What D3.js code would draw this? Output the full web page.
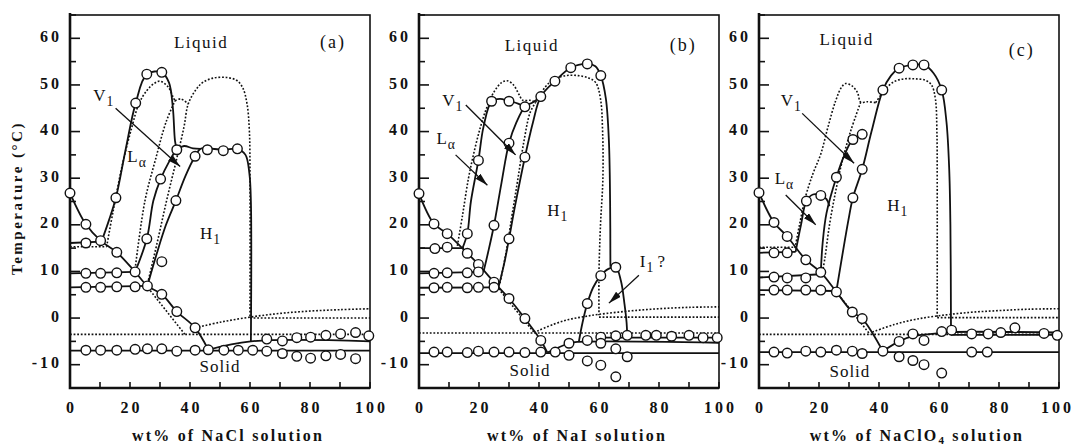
<!DOCTYPE html>
<html lang="en">
<head>
<meta charset="UTF-8">
<title>Phase diagrams</title>
<script src="https://cdn.jsdelivr.net/npm/d3@7/dist/d3.min.js"></script>
<style>
  body { margin: 0; background: #fff; }
  svg text { font-family: "Liberation Serif", "Times New Roman", serif; fill: #111; }
</style>
</head>
<body>
<div id="chart"></div>
<script>
// axis ticks
var xTicks = [0, 20, 40, 60, 80, 100];
var yTicks = [-10, 0, 10, 20, 30, 40, 50, 60];
var yMinor = [-15, -5, 5, 15, 25, 35, 45, 55, 65];
var panelTags = ['(a)', '(b)', '(c)'];
var saltNames = ['NaCl', 'NaI', 'NaClO'];

// ---- (a) NaCl ----
var naclPoints = [
  [0,26.8],[5.3,20.1],[10.2,16.6],[15.6,14.1],[21.7,9.9],[25.8,6.9],[30.6,5.1],[35.6,1.4],[41.7,-2.1],[46.1,-6.8],
  [5.3,16.1],
  [5.3,9.6],[10.2,9.6],[15.6,9.7],
  [5.3,6.6],[10.2,6.6],[15.6,6.7],[21.7,6.7],
  [15.3,25.8],[21.9,46.1],[25.6,52.3],[30.6,52.7],[35.6,36.1],[41.7,34.7],[45.8,36.1],[51.1,35.9],[55.8,36.3],
  [30.2,29.8],[35.3,25.2],[25.6,17.0],[30.6,12.1],
  [5.3,-6.9],[10.2,-6.9],[15.6,-6.9],[21.7,-6.7],[25.8,-6.6],[30.6,-6.6],[35.6,-7.1],[41.7,-6.9],[51.3,-6.9],
  [56.1,-6.9],[60.9,-6.9],[65.6,-7.1],[70.8,-7.6],[75.6,-8.2],[80.2,-8.6],[85.3,-8.1],[90.2,-7.8],[95.2,-8.7],
  [65.6,-4.5],[70.8,-4.9],[75.6,-4.2],[80.2,-4.1],[85.3,-3.7],[90.2,-3.4],[95.2,-3.1],[99.6,-3.8]
];
var naclSolid = [
  [[0,26.8],[5.3,20.1],[10.2,16.6],[15.6,14.1],[21.7,9.9],[25.8,6.9],[30.6,5.1],[35.6,1.4],[41.7,-2.1],[46.1,-6.8]],
  [[0,16.1],[10.5,16.4]],
  [[0,9.6],[21.7,9.9]],
  [[0,6.6],[25.8,6.9]],
  [[0,-7],[100,-7]],
  [[46.1,-6.8],[60.3,-5],[100,-5]],
  [[10.5,16.4],[13,21],[15.3,25.8],[18.5,36],[21.9,46.1],[25.6,52.3],[30.6,52.7],[33,50.5],[34.3,45],[35,38],[35.6,36.1]],
  [[21.7,9.9],[25.6,17.0],[27.8,25.2],[30.2,29.8],[33,33.5],[35.6,36.1],[38,36.9],[41,36.4],[43.5,36.3]],
  [[25.8,6.9],[29,14],[32,20],[35.3,25.2],[38.5,30.5],[41.7,34.7],[43.5,36.3],[45.8,36.4],[51.1,36.1],[55.8,36.3],
   [58.5,35],[59.8,31],[60.3,25],[60.3,-5]]
];
var naclDotted = [
  [[0,15.3],[12.2,15.3]],
  [[12.2,15.3],[14.4,23],[17.5,33],[20.6,40.9],[23,46],[25.6,48.8],[28,50.3],[30,50.8],[32.8,49.5],[34.4,47.3],[35,46.6]],
  [[21.7,10.5],[25,25.2],[28.5,34],[32,42],[35,46.6]],
  [[35,46.6],[37,47],[39.4,45.9]],
  [[25.6,6.7],[29,16],[32.2,25.2],[35.5,34],[38,41],[39.4,45.9],[42,49],[44.4,50.6],[48,51.5],[52.2,51.6],
   [55.5,51],[57.5,49.5],[59,46],[59.8,40],[60,30],[60,0.2]],
  [[0,-3.5],[100,-3.5]],
  [[60,0],[100,0]],
  [[26,6.5],[38.3,-3.5]],
  [[41.7,-2.1],[50,-0.9],[60,0.2],[70,1],[80,1.5],[90,1.8],[100,2]]
];
var naclArrows = [[[15.2,45],[36.7,32.5]]];

// ---- (b) NaI ----
var naiPoints = [
  [0,26.7],[5,20.2],[9.4,18.1],[16.1,13.9],[19.8,11.5],[25,7.7],[30,4.2],[35.3,-0.1],[40.6,-4.8],
  [5.3,14.9],[9.4,15.2],
  [5,9.6],[9.4,9.7],[16.1,9.7],[19.8,9.9],
  [5,6.5],[9.4,6.6],[16.1,6.5],[19.8,6.6],[25,6.6],
  [24.2,46.5],[30,46.5],[35.3,45.3],[40.6,47.5],[45.3,50.8],[50.6,53.7],[56.1,54.5],[60.6,52],
  [30,37.5],[35.3,34.5],[19.8,33.8],[16.1,18.1],[25,19.9],[30,17],
  [5,-7.3],[9.4,-7.3],[16.1,-7.4],[19.8,-7.1],[25,-7.3],[30,-7.3],[35.3,-7.4],[40.6,-7.3],[45.4,-7.3],
  [50,-5.4],[50,-8],[56.1,3.1],[56.1,-4.8],[56.1,-9.2],[60.6,9.1],[60.6,-4.1],[60.6,-5.4],[60.6,-10.1],
  [65.6,10.9],[65.6,-3.8],[65.6,-6.6],[65.6,-12.6],[69.4,-3.7],[69.4,-8.3],
  [75.6,-3.7],[79.1,-3.7],[84.2,-3.9],[90,-3.7],[94.7,-4.2],[99.4,-4.2]
];
var naiSolid = [
  [[0,26.7],[5,20.2],[9.4,18.1],[16.1,13.9],[19.8,11.5],[25,7.7],[30,4.2],[35.3,-0.1],[40.6,-4.8],[42.8,-7.4]],
  [[0,15],[15,15]],
  [[0,9.6],[21,9.9]],
  [[0,6.5],[26,6.6]],
  [[0,-7.5],[100,-7.5]],
  [[42.8,-7.4],[50,-5.4],[53,-5.1],[100,-5.3]],
  [[60,-4.2],[100,-4.2]],
  [[14.5,15],[16.1,18.1],[17.3,25],[19.8,33.8],[21.5,41],[24.2,46.5],[27,47],[30,46.5],[33,46],[35.3,45.3]],
  [[21.5,9.9],[23,14],[25,19.9],[27.5,29],[30,37.5],[32.5,42],[35.3,45.3],[38,46.3],[40.6,47.5]],
  [[26.5,6.6],[28.5,12],[30,17],[32,24],[35.3,34.5],[38,42],[40.6,47.5],[45.3,50.8],[50.6,53.7],[56.1,54.5],
   [58.8,54],[60.6,52],[62.3,47],[63.3,38],[63.7,25],[63.8,11]],
  [[53.3,-5],[54.5,-1],[56.1,3.1],[58,6.5],[60.6,9.1],[63,10.5],[65.6,10.9],[67.3,8],[68.5,3],[69.2,-1],[69.4,-3.7]]
];
var naiDotted = [
  [[12.8,15.5],[14.5,22],[16.5,30],[18.5,36],[20.5,41],[22.5,45],[25,48.5],[27.5,50.5],[29.4,50.9],[31.5,50],
   [33.3,48],[34.6,46.7],[37,46.7],[38.9,46.3]],
  [[27,7.5],[29,14],[31,22],[33,30],[35,38],[37,44],[38.9,46.3]],
  [[38.9,46.3],[42,49.5],[45,51.2],[49,52],[53,52],[56.5,51.5],[58.9,50.5],[60.5,47],[61.2,40],[61.3,30],
   [60.5,20],[60,10],[60,0.6]],
  [[60,0.2],[100,0.2]],
  [[0,-3.2],[100,-3.2]],
  [[39.4,-2.8],[45,-1.3],[50,-0.3],[55,0.3],[60,0.8],[70,1.5],[80,2],[90,2.3],[100,2.4]],
  [[25,7.5],[38.5,-3.2]]
];
var naiArrows = [[[15.6,45.7],[32.2,35]], [[12.2,35],[22.8,28.5]], [[73.3,9.2],[63.3,3.2]]];

// ---- (c) NaClO4 ----
var perPoints = [
  [0,26.9],[5,20.5],[9.4,17.5],[15.6,12.5],[20.6,9.8],[25.8,5.6],[31.1,1.3],[34.4,-0.1],[41.3,-7.1],
  [5,14],[9.4,14],
  [5,8.8],[9.4,8.6],[15.6,8.6],
  [5,6],[9.4,6],[15.6,6],[20.6,6],
  [46.7,53.6],[51.3,54.3],[55,54.3],[60.9,48.9],[41.3,48.9],[31.3,38.3],[34.4,39.4],[34.4,31.9],
  [25.8,30.2],[31.3,25.8],[15.8,25.1],[20.6,26.3],
  [5,-7.3],[9.4,-7.5],[15.6,-7.1],[20.6,-7.3],[25.8,-6.9],[31.1,-7.1],[34.4,-7.6],[70.9,-7.3],[76.1,-7.3],
  [46.7,-5],[51.3,-3.4],[55,-4.8],[60.9,-2.9],[64.2,-2.6],[70.9,-3.4],[76.4,-3.4],[80.6,-3.1],[85.3,-2.1],
  [95,-3.3],[99.4,-3.7],
  [46.7,-8.3],[51.3,-9.1],[55,-10],[60.9,-11.8]
];
var perSolid = [
  [[0,26.9],[5,20.5],[9.4,17.5],[15.6,12.5],[20.6,9.8],[25.8,5.6],[31.1,1.3],[34.4,-0.1],[41.3,-7.1]],
  [[0,14],[12.2,14.2]],
  [[0,8.7],[20.6,9.4]],
  [[0,6],[25.8,5.8]],
  [[0,-7.3],[100,-7.3]],
  [[41.3,-7.1],[46.7,-5],[51.3,-3.9],[60.9,-3.2],[64,-3],[100,-3.1]],
  [[64,-3.6],[100,-3.6]],
  [[12.2,14.2],[14,20],[15.8,25.1],[18,26.5],[20.6,26.3],[22.5,25.5],[23.5,24]],
  [[20.6,9.8],[21.2,16],[22.5,22.5],[25.8,30.2],[28.5,35],[31.3,38.3],[34.4,39.4]],
  [[25.8,5.8],[29.8,21],[31.3,25.8],[34.4,31.9],[37.5,40],[41.3,48.9],[44,52],[46.7,53.6],[51.3,54.3],
   [55,54.3],[58.2,52.5],[60.9,48.9],[62.5,42],[63.4,32],[63.8,20],[64,-2.8]]
];
var perDotted = [
  [[0,15.2],[12,15.2]],
  [[12,15],[13.5,20],[15.5,26],[18,31],[20.6,35.2],[23,41],[25.5,46.5],[27.5,49.5],[28.9,50.3],[31,49.8],
   [32.8,48.4],[33.9,46.3],[36,46.4],[38.9,46.2]],
  [[33.9,46.3],[30.5,40],[27.5,33],[25.5,27],[23.5,20],[22,13],[21.2,10]],
  [[38.9,46.2],[42,49],[45,50.7],[48.5,51.3],[52.2,51.3],[55.5,51],[57.5,50],[58.8,47],[59.3,40],[59.4,30],[59.4,0.3]],
  [[59.4,0.1],[100,0.1]],
  [[0,-3.5],[100,-3.5]],
  [[37.8,-3],[45,-1.4],[52,-0.3],[60,0.5],[70,1.2],[80,1.6],[90,1.9],[100,2]],
  [[25.8,5.6],[37,-3.5]]
];
var perArrows = [[[14.4,43.9],[31.7,33.2]], [[8.9,26.4],[18.9,20]]];

// labels: [x, T]
var liquidPos = [[43.7,58.8],[37.6,58.2],[29.2,59.3]];
var tagPos = [[87.7,58.8],[88.1,58.2],[87.6,57.1]];
var solidPos = [[50,-10.7],[37,-11.5],[30.3,-11.7]];
var v1Pos = [[11.1,47.5],[11.1,46.4],[10.6,46.4]];
var laPos = [[22.2,34.3],[8.9,38.2],[8.3,29.6]];
var h1Pos = [[46.7,17.8],[46.1,22.8],[46.1,23.9]];
var i1Pos = [77.8,11.8];

var panels = [
  {pts: naclPoints, solid: naclSolid, dotted: naclDotted, arrows: naclArrows, left: 70},
  {pts: naiPoints, solid: naiSolid, dotted: naiDotted, arrows: naiArrows, left: 419},
  {pts: perPoints, solid: perSolid, dotted: perDotted, arrows: perArrows, left: 759}
];

var svg = d3.select('#chart').append('svg')
    .attr('width', 1075)
    .attr('height', 446);

svg.append('defs').append('marker')
    .attr('id', 'head')
    .attr('viewBox', '0 0 13 7')
    .attr('refX', 13).attr('refY', 3.5)
    .attr('markerWidth', 13).attr('markerHeight', 7)
    .attr('markerUnits', 'userSpaceOnUse')
    .attr('orient', 'auto')
  .append('path')
    .attr('d', 'M0,0 L13,3.5 L0,7 Z')
    .attr('fill', '#111');

var y = d3.scaleLinear().domain([-15, 65]).range([388, 15]);

// text with a subscript
function subLabel(g, px, py, main, sub, size, tail) {
  var t = g.append('text')
      .attr('x', px).attr('y', py)
      .attr('text-anchor', 'middle')
      .attr('dominant-baseline', 'middle')
      .style('font-size', size + 'px');
  t.append('tspan').text(main);
  t.append('tspan').attr('dx', 1).attr('dy', 6).style('font-size', (size * 0.8) + 'px').text(sub);
  if (tail) t.append('tspan').attr('dy', -6).text(' ?');
  return t;
}

panels.forEach(function(p, i) {
  var x = d3.scaleLinear().domain([0, 100]).range([p.left, p.left + 300]);
  var g = svg.append('g');
  var line = d3.line().x(function(d){ return x(d[0]); }).y(function(d){ return y(d[1]); })
      .curve(d3.curveCatmullRom.alpha(0.5));

  // frame
  g.append('rect')
      .attr('x', x(0)).attr('y', y(65))
      .attr('width', x(100) - x(0)).attr('height', y(-15) - y(65))
      .attr('fill', 'none').attr('stroke', '#111').attr('stroke-width', 1.6);
  g.append('path')
      .attr('d', 'M' + x(0) + ',' + (y(65) - 2) + 'V' + y(-15) + 'H' + x(100))
      .attr('fill', 'none').attr('stroke', '#111').attr('stroke-width', 2.6);

  // ticks
  g.selectAll('.yt').data(yTicks).enter().append('line')
      .attr('x1', x(0)).attr('x2', x(0) + 10)
      .attr('y1', function(d){ return y(d); }).attr('y2', function(d){ return y(d); })
      .attr('stroke', '#111').attr('stroke-width', 1.6);
  g.selectAll('.ym').data(yMinor).enter().append('line')
      .attr('x1', x(0)).attr('x2', x(0) + 6)
      .attr('y1', function(d){ return y(d); }).attr('y2', function(d){ return y(d); })
      .attr('stroke', '#111').attr('stroke-width', 1.6);
  g.selectAll('.xt').data(d3.range(0, 101, 10)).enter().append('line')
      .attr('x1', function(d){ return x(d); }).attr('x2', function(d){ return x(d); })
      .attr('y1', y(-15)).attr('y2', y(-15) - 6)
      .attr('stroke', '#111').attr('stroke-width', 1.6);

  g.selectAll('.yl').data(yTicks).enter().append('text')
      .attr('x', x(0) - 8).attr('y', function(d){ return y(d); })
      .attr('text-anchor', 'end').attr('dominant-baseline', 'middle')
      .style('font-size', '16px').style('font-weight', 'bold').style('letter-spacing', '3px')
      .text(function(d){ return d; });
  // last label of the last panel is pulled in so it stays on the page
  g.selectAll('.xl').data(xTicks).enter().append('text')
      .attr('x', function(d){ return (i === 2 && d === 100) ? 1074 : x(d) + 1.5; })
      .attr('y', 409)
      .attr('text-anchor', function(d){ return (i === 2 && d === 100) ? 'end' : 'middle'; })
      .attr('dominant-baseline', 'middle')
      .style('font-size', '16px').style('font-weight', 'bold').style('letter-spacing', '3px')
      .text(function(d){ return d; });

  var xl = g.append('text')
      .attr('x', x(50) + 8).attr('y', 437)
      .attr('text-anchor', 'middle').attr('dominant-baseline', 'middle')
      .style('font-size', '16px').style('font-weight', 'bold').style('letter-spacing', '2.2px');
  xl.append('tspan').text('wt% of ' + saltNames[i]);
  if (i === 2) {
    xl.append('tspan').attr('dy', 4).style('font-size', '11px').text('4');
    xl.append('tspan').attr('dy', -4).text(' solution');
  } else {
    xl.append('tspan').text(' solution');
  }

  // lines
  g.selectAll('.dot').data(p.dotted).enter().append('path')
      .attr('d', line)
      .attr('fill', 'none').attr('stroke', '#111').attr('stroke-width', 1.6)
      .attr('stroke-dasharray', '1.8,1.8');
  g.selectAll('.sol').data(p.solid).enter().append('path')
      .attr('d', line)
      .attr('fill', 'none').attr('stroke', '#111').attr('stroke-width', 1.8);

  // points
  g.selectAll('circle').data(p.pts).enter().append('circle')
      .attr('cx', function(d){ return x(d[0]); })
      .attr('cy', function(d){ return y(d[1]); })
      .attr('r', 4.8)
      .attr('fill', '#fff').attr('stroke', '#111').attr('stroke-width', 1.4);

  // arrows
  g.selectAll('.arr').data(p.arrows).enter().append('line')
      .attr('x1', function(d){ return x(d[0][0]); }).attr('y1', function(d){ return y(d[0][1]); })
      .attr('x2', function(d){ return x(d[1][0]); }).attr('y2', function(d){ return y(d[1][1]); })
      .attr('stroke', '#111').attr('stroke-width', 1.3)
      .attr('marker-end', 'url(#head)');

  // region labels
  g.append('text').attr('x', x(liquidPos[i][0])).attr('y', y(liquidPos[i][1]))
      .attr('text-anchor', 'middle').attr('dominant-baseline', 'middle')
      .style('font-size', '17px').style('letter-spacing', '1.5px').text('Liquid');
  g.append('text').attr('x', x(tagPos[i][0])).attr('y', y(tagPos[i][1]))
      .attr('text-anchor', 'middle').attr('dominant-baseline', 'middle')
      .style('font-size', '18px').style('letter-spacing', '2px').text(panelTags[i]);
  g.append('text').attr('x', x(solidPos[i][0])).attr('y', y(solidPos[i][1]))
      .attr('text-anchor', 'middle').attr('dominant-baseline', 'middle')
      .style('font-size', '17px').style('letter-spacing', '1px').text('Solid');
  subLabel(g, x(v1Pos[i][0]), y(v1Pos[i][1]), 'V', '1', 17);
  subLabel(g, x(laPos[i][0]), y(laPos[i][1]), 'L', '\u03b1', 17);
  subLabel(g, x(h1Pos[i][0]), y(h1Pos[i][1]), 'H', '1', 17);
  if (i === 1) subLabel(g, x(i1Pos[0]), y(i1Pos[1]), 'I', '1', 17, true);
});

// y axis title
svg.append('text')
    .attr('transform', 'translate(19,' + 198 + ') rotate(-90)')
    .attr('text-anchor', 'middle').attr('dominant-baseline', 'middle')
    .style('font-size', '15px').style('font-weight', 'bold').style('letter-spacing', '2.5px')
    .text('Temperature (\u00b0C)');
</script>
</body>
</html>
